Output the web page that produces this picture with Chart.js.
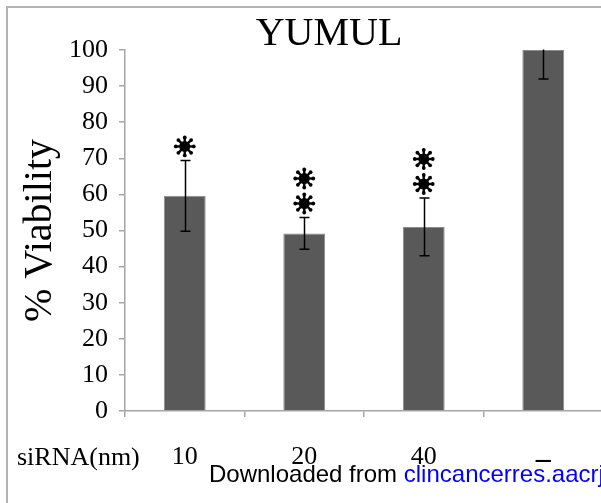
<!DOCTYPE html>
<html>
<head>
<meta charset="utf-8">
<script src="https://cdn.jsdelivr.net/npm/chart.js@4"></script>
<style>
  html, body { margin: 0; padding: 0; background: #fff; overflow: hidden; }
  #wrap { width: 601px; height: 503px; overflow: hidden; position: relative; }
  #wrap canvas { position: absolute; left: 0; top: 0; }
</style>
</head>
<body>
<div id="wrap"><canvas id="c" width="603" height="503" style="width:603px;height:503px"></canvas></div>
<script>
// siRNA concentration groups and measured viability (%), with error (± SD)
const categories = ['10', '20', '40', '–'];
const viability = [59.6, 49.2, 51.0, 100];
const errors = [9.8, 4.4, 8.0, 8.0];
// number of significance asterisks above each bar
const stars = [1, 2, 2, 0];
const yTicks = [0, 10, 20, 30, 40, 50, 60, 70, 80, 90, 100];

const SERIF = '"Liberation Serif", "Times New Roman", serif';
const SANS = '"Liberation Sans", Arial, sans-serif';
const AXIS_GRAY = '#a6a6a6';

// light outer frame around the figure panel
const framePlugin = {
  id: 'frame',
  beforeDraw(chart) {
    const ctx = chart.ctx;
    ctx.save();
    ctx.strokeStyle = '#b4b4b4';
    ctx.lineWidth = 2;
    ctx.beginPath();
    ctx.moveTo(7, chart.height + 5);
    ctx.lineTo(7, 7);
    ctx.lineTo(chart.width + 5, 7);
    ctx.stroke();
    ctx.restore();
  }
};

// vertical error bars with caps, clipped to the plot area
const errorBarPlugin = {
  id: 'errorBars',
  afterDatasetsDraw(chart) {
    const ctx = chart.ctx;
    const y = chart.scales.y;
    const area = chart.chartArea;
    const meta = chart.getDatasetMeta(0);
    ctx.save();
    ctx.beginPath();
    ctx.rect(area.left, area.top - 0.5, area.right - area.left, area.bottom - area.top + 1);
    ctx.clip();
    ctx.strokeStyle = '#000';
    ctx.lineWidth = 1.5;
    meta.data.forEach((bar, i) => {
      const v = viability[i], e = errors[i];
      const top = y.getPixelForValue(v + e);
      const bot = y.getPixelForValue(v - e);
      const x = Math.round(bar.x) + 0.5;
      ctx.beginPath();
      ctx.moveTo(x, top);
      ctx.lineTo(x, bot);
      ctx.moveTo(x - 5, top);
      ctx.lineTo(x + 5, top);
      ctx.moveTo(x - 5, bot);
      ctx.lineTo(x + 5, bot);
      ctx.stroke();
    });
    ctx.restore();
  }
};

// significance asterisks stacked above the error bars
function drawAsterisk(ctx, cx, cy) {
  ctx.save();
  ctx.fillStyle = '#000';
  ctx.strokeStyle = '#000';
  ctx.lineWidth = 2.4;
  for (let k = 0; k < 8; k++) {
    const a = k * Math.PI / 4;
    ctx.beginPath();
    ctx.moveTo(cx, cy);
    ctx.lineTo(cx + Math.cos(a) * 8, cy + Math.sin(a) * 8);
    ctx.stroke();
    ctx.beginPath();
    ctx.arc(cx + Math.cos(a) * 9, cy + Math.sin(a) * 9, 1.9, 0, Math.PI * 2);
    ctx.fill();
  }
  ctx.beginPath();
  ctx.arc(cx, cy, 5.5, 0, Math.PI * 2);
  ctx.fill();
  ctx.restore();
}

const starPlugin = {
  id: 'stars',
  afterDatasetsDraw(chart) {
    const ctx = chart.ctx;
    const y = chart.scales.y;
    const meta = chart.getDatasetMeta(0);
    meta.data.forEach((bar, i) => {
      const top = y.getPixelForValue(viability[i] + errors[i]);
      for (let s = 0; s < stars[i]; s++) {
        drawAsterisk(ctx, bar.x, top - 14 - s * 25);
      }
    });
  }
};

// chart title, row caption and download note
const textPlugin = {
  id: 'texts',
  afterDraw(chart) {
    const ctx = chart.ctx;
    ctx.save();
    ctx.fillStyle = '#000';
    ctx.textBaseline = 'alphabetic';
    ctx.textAlign = 'center';
    ctx.font = '40px ' + SERIF;
    ctx.fillText('YUMUL', 329, 45);
    ctx.textAlign = 'left';
    ctx.font = '26px ' + SERIF;
    ctx.fillText('siRNA(nm)', 17, 465);
    ctx.font = '24px ' + SANS;
    const lead = 'Downloaded from ';
    ctx.fillText(lead, 209, 482);
    const w = ctx.measureText(lead).width;
    ctx.fillStyle = '#0000ff';
    ctx.fillText('clincancerres.aacrj', 209 + w, 482);
    ctx.restore();
  }
};

new Chart(document.getElementById('c'), {
  type: 'bar',
  data: {
    labels: categories,
    datasets: [{
      data: viability,
      backgroundColor: '#595959',
      borderColor: '#8a8a8a',
      borderWidth: 1,
      barPercentage: 0.35,
      categoryPercentage: 1.0
    }]
  },
  options: {
    responsive: false,
    animation: false,
    devicePixelRatio: 1,
    layout: { padding: { top: 50, left: 0, right: 0, bottom: 0 } },
    plugins: {
      legend: { display: false },
      title: { display: false },
      tooltip: { enabled: false }
    },
    scales: {
      x: {
        type: 'category',
        grid: { display: true, drawOnChartArea: false, offset: true, tickLength: 6, color: AXIS_GRAY, lineWidth: 1.5 },
        border: { color: AXIS_GRAY, width: 1.5 },
        ticks: {
          color: '#000',
          padding: 25,
          font: (c) => c.index === 3
            ? { family: SERIF, size: 30, weight: 'bold' }
            : { family: SERIF, size: 26 }
        },
        afterFit(scale) { scale.height = 92; }
      },
      y: {
        min: 0,
        max: 100,
        afterBuildTicks(scale) { scale.ticks = yTicks.map(v => ({ value: v })); },
        grid: { display: true, drawOnChartArea: false, tickLength: 6, color: AXIS_GRAY, lineWidth: 1.5 },
        border: { color: AXIS_GRAY, width: 1.5 },
        ticks: { color: '#000', padding: 11, font: { family: SERIF, size: 26 } },
        title: {
          display: true,
          text: '% Viability',
          color: '#000',
          font: { family: SERIF, size: 40 },
          padding: { top: 16, bottom: 0 }
        },
        afterFit(scale) { scale.width = 125; }
      }
    }
  },
  plugins: [framePlugin, errorBarPlugin, starPlugin, textPlugin]
});
</script>
</body>
</html>
